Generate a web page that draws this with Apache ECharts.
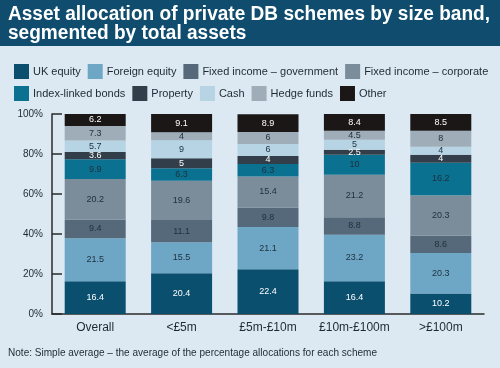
<!DOCTYPE html>
<html>
<head>
<meta charset="utf-8">
<script src="https://cdn.jsdelivr.net/npm/echarts@6/dist/echarts.min.js"></script>
<style>
html,body{margin:0;padding:0;background:#dce9f2;}
#c{width:500px;height:368px;}
</style>
</head>
<body>
<div id="c"></div>
<script>
const categories = ['Overall', '<£5m', '£5m-£10m', '£10m-£100m', '>£100m'];
const seriesNames = ['UK equity', 'Foreign equity', 'Fixed income – government', 'Fixed income – corporate',
  'Index-linked bonds', 'Property', 'Cash', 'Hedge funds', 'Other'];
const ukEquity      = [16.4, 20.4, 22.4, 16.4, 10.2];
const foreignEquity = [21.5, 15.5, 21.1, 23.2, 20.3];
const fiGovernment  = [9.4, 11.1, 9.8, 8.8, 8.6];
const fiCorporate   = [20.2, 19.6, 15.4, 21.2, 20.3];
const indexLinked   = [9.9, 6.3, 6.3, 10, 16.2];
const property      = [3.6, 5, 4, 2.5, 4];
const cash          = [5.7, 9, 6, 5, 4];
const hedgeFunds    = [7.3, 4, 6, 4.5, 8];
const other         = [6.2, 9.1, 8.9, 8.4, 8.5];
const yTicks = [0, 20, 40, 60, 80, 100];

const titleLines = ['Asset allocation of private DB schemes by size band,', 'segmented by total assets'];
const noteText = 'Note: Simple average – the average of the percentage allocations for each scheme';

const seriesData = [ukEquity, foreignEquity, fiGovernment, fiCorporate, indexLinked, property, cash, hedgeFunds, other];
const colors = ['#0b4f6f', '#6ea7c5', '#55697a', '#7b8d9a', '#0b7191', '#323f4a', '#b6d4e4', '#9fadb8', '#1b1717'];
const labelColors = ['#ffffff', '#1e2f3b', '#1e2f3b', '#1e2f3b', '#1e2f3b', '#ffffff', '#1e2f3b', '#1e2f3b', '#ffffff'];
const FONT = '"Liberation Sans", Arial, sans-serif';

function measure(text, font) {
  const ctx = document.createElement('canvas').getContext('2d');
  ctx.font = font;
  return ctx.measureText(text).width;
}
const titleFont = 'bold 20px ' + FONT;
const titleScale = 482 / measure(titleLines[0], titleFont);
const noteFont = '11px ' + FONT;
const noteScale = 369 / measure(noteText, noteFont);

const chart = echarts.init(document.getElementById('c'), null, {renderer: 'canvas'});
const legendCommon = {itemWidth: 15, itemHeight: 15, itemGap: 7, icon: 'rect', selectedMode: false,
  textStyle: {fontFamily: FONT, fontSize: 11, color: '#1e2a33', padding: [0, 0, 0, -1]}};
const option = {
  backgroundColor: '#dce9f2',
  animation: false,
  graphic: [
    {type: 'rect', left: 0, top: 0, shape: {width: 500, height: 46}, style: {fill: '#0f4c6d'}},
    {type: 'text', x: 8, y: 4, scaleX: titleScale, style: {text: titleLines[0], fill: '#ffffff', font: titleFont}},
    {type: 'text', x: 8, y: 23, scaleX: titleScale, style: {text: titleLines[1], fill: '#ffffff', font: titleFont}},
    {type: 'text', x: 8, y: 347, scaleX: noteScale, style: {text: noteText, fill: '#1e2a33', font: noteFont}}
  ],
  legend: [
    Object.assign({data: seriesNames.slice(0, 4), left: 9, top: 59}, legendCommon),
    Object.assign({data: seriesNames.slice(4), left: 9, top: 81}, legendCommon)
  ],
  grid: {left: 52, right: 16, top: 114, bottom: 54, containLabel: false},
  xAxis: {
    type: 'category', data: categories,
    axisLine: {lineStyle: {color: '#2b2b2b', width: 1.5}},
    axisTick: {inside: true, length: 5, lineStyle: {color: '#2b2b2b', width: 1.5}},
    axisLabel: {interval: 0, fontFamily: FONT, fontSize: 12, color: '#1e2a33', margin: 8}
  },
  yAxis: {
    type: 'value', min: 0, max: 100, interval: 20,
    axisLine: {show: true, lineStyle: {color: '#2b2b2b', width: 1.5}},
    axisTick: {show: true, inside: true, length: 10, lineStyle: {color: '#2b2b2b', width: 1.5}},
    splitLine: {show: false},
    axisLabel: {fontFamily: FONT, fontSize: 10, color: '#1e2a33', margin: 9,
      formatter: v => yTicks.includes(v) ? v + '%' : ''}
  },
  series: seriesData.map((d, i) => ({
    name: seriesNames[i], type: 'bar', stack: 'total', data: d, barWidth: 61,
    itemStyle: {color: colors[i]},
    label: {show: true, position: 'inside', color: labelColors[i], fontFamily: FONT, fontSize: 9,
      formatter: p => String(p.value)}
  }))
};
chart.setOption(option);
</script>
</body>
</html>
